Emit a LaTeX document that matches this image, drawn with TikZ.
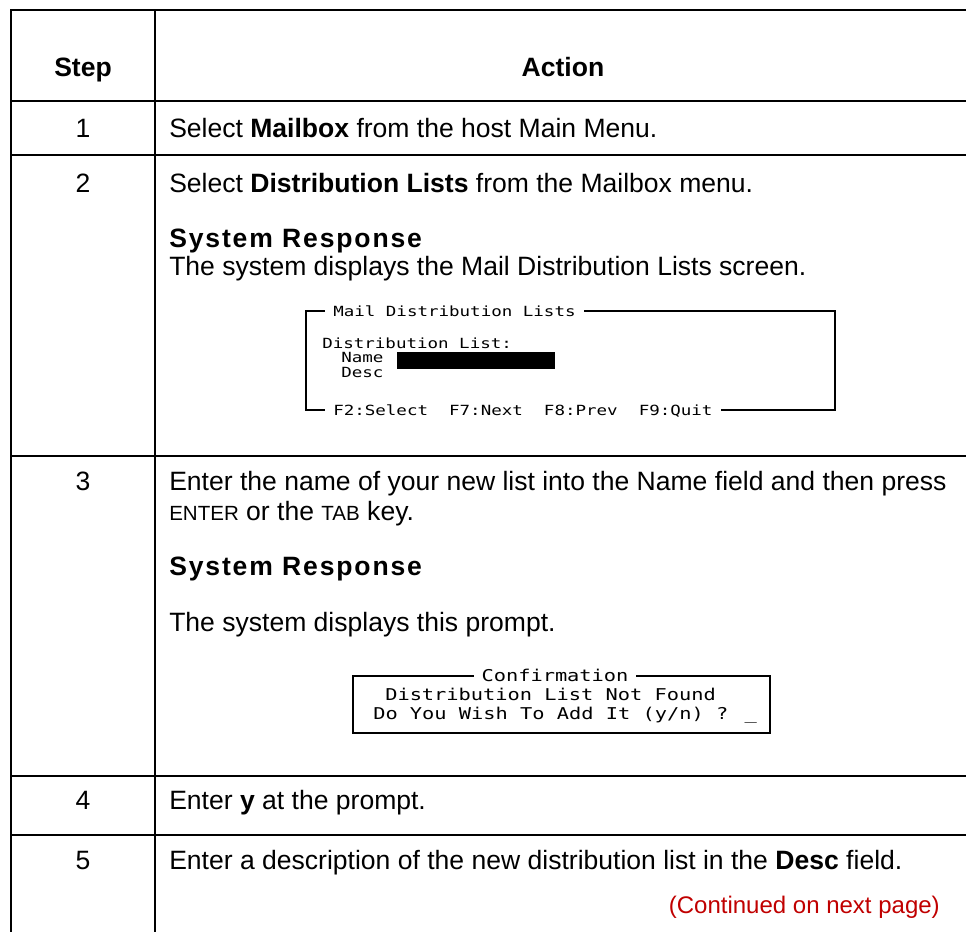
\documentclass[tikz,border=0pt]{standalone}
\usepackage{fontspec}
\setmainfont{Liberation Sans}
\newfontfamily\respfont{Liberation Sans}[LetterSpace=7]
\newfontfamily\screenfont{DejaVu Sans Mono}[FakeStretch=1.25]
\definecolor{contred}{RGB}{192,0,0}
\newcommand\bodyfont{\fontsize{19.9pt}{22.5pt}\selectfont}
\newcommand\keyname[1]{{\fontsize{15.4pt}{18pt}\selectfont #1}}

\begin{document}
\begin{tikzpicture}[x=0.75pt, y=-0.75pt,
    grid/.style={line width=1.8pt, line cap=rect},
    num/.style={anchor=base, inner sep=0pt, font=\bodyfont},
    head/.style={num, font=\bodyfont\bfseries},
    cell/.style={anchor=base west, inner sep=0pt, font=\bodyfont},
    resp/.style={cell, font=\bodyfont\respfont\bfseries},
    screen/.style={draw, line width=1pt},
    scrsmall/.style={anchor=base west, inner sep=0pt, font=\screenfont\fontsize{10.5pt}{11.25pt}\selectfont},
    scrlarge/.style={anchor=base west, inner sep=0pt, font=\screenfont\fontsize{12.2pt}{14pt}\selectfont},
    scrtitle/.style={fill=white, inner xsep=6pt, inner ysep=1pt}
]
\useasboundingbox (0,0) rectangle (966,931);

% Table rules
\foreach \y in {10,101,155,456,776,835}
    \draw[grid] (11,\y) -- (966,\y);
\foreach \x in {11,155}
    \draw[grid] (\x,10) -- (\x,931);

% Header
\node[head] (stephead) at (83,76) {Step};
\node[head] (actionhead) at (563,76) {Action};

% Step 1
\node[num] (num1) at (83,137) {1};
\node[cell] (act1) at (169,137) {Select \textbf{Mailbox} from the host Main Menu.};

% Step 2
\node[num] (num2) at (83,192) {2};
\node[cell] (act2) at (169,192) {Select \textbf{Distribution Lists} from the Mailbox menu.};
\node[resp] (resp2) at (169,247) {System Response};
\node[cell] (disp2) at (169,275) {The system displays the Mail Distribution Lists screen.};

% Mail Distribution Lists screen
\draw[screen] (306,311) rectangle (835,410);
\node[scrsmall, scrtitle] (listtitle) at (325,316) {Mail Distribution Lists};
\node[scrsmall] (listlabel) at (322,348) {Distribution List:};
\node[scrsmall] (namelabel) at (341,362) {Name};
\fill (397,352) rectangle (555,369);
\node[scrsmall] (desclabel) at (341,377) {Desc};
\node[scrsmall, scrtitle] (listkeys) at (325,415) {F2:Select\ \ F7:Next\ \ F8:Prev\ \ F9:Quit};

% Step 3
\node[num] (num3) at (83,490) {3};
\node[cell] (act3a) at (169,490) {Enter the name of your new list into the Name field and then press};
\node[cell] (act3b) at (169,520) {\keyname{ENTER} or the \keyname{TAB} key.};
\node[resp] (resp3) at (169,575) {System Response};
\node[cell] (disp3) at (169,631) {The system displays this prompt.};

% Confirmation prompt
\draw[screen] (353,676) rectangle (770,733);
\node[scrlarge, scrtitle, anchor=base] (conftitle) at (555,681) {Confirmation};
\node[scrlarge] (confline1) at (385,700) {Distribution List Not Found};
\node[scrlarge] (confline2) at (373,719) {Do You Wish To Add It (y/n) ? \_};

% Step 4
\node[num] (num4) at (83,809) {4};
\node[cell] (act4) at (169,809) {Enter \textbf{y} at the prompt.};

% Step 5
\node[num] (num5) at (83,869) {5};
\node[cell] (act5) at (169,869) {Enter a description of the new distribution list in the \textbf{Desc} field.};
\node[cell, anchor=base east, text=contred, font=\fontsize{18pt}{21pt}\selectfont] (cont) at (940,913) {(Continued on next page)};

\end{tikzpicture}
\end{document}
